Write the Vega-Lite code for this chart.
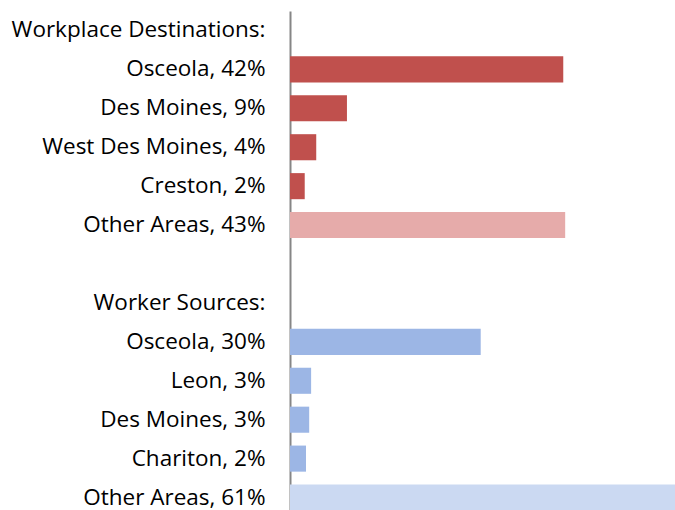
{
  "$schema": "https://vega.github.io/schema/vega-lite/v6.json",
  "autosize": {"type": "none"},
  "padding": {"left": 290, "top": 11, "right": 0, "bottom": 0},
  "width": 385,
  "height": 506,
  "background": "white",
  "config": {"view": {"stroke": null}},
  "data": {
    "values": [
      {"label": "Workplace Destinations:", "value": 0, "grp": "none"},
      {"label": "Osceola, 42%", "value": 42.7, "grp": "dest"},
      {"label": "Des Moines, 9%", "value": 8.9, "grp": "dest"},
      {"label": "West Des Moines, 4%", "value": 4.1, "grp": "dest"},
      {"label": "Creston, 2%", "value": 2.3, "grp": "dest"},
      {"label": "Other Areas, 43%", "value": 43.0, "grp": "destOther"},
      {"label": " ", "value": 0, "grp": "none"},
      {"label": "Worker Sources:", "value": 0, "grp": "none"},
      {"label": "Osceola, 30%", "value": 29.8, "grp": "src"},
      {"label": "Leon, 3%", "value": 3.3, "grp": "src"},
      {"label": "Des Moines, 3% ", "value": 3.0, "grp": "src"},
      {"label": "Chariton, 2%", "value": 2.5, "grp": "src"},
      {"label": "Other Areas, 61%", "value": 61.0, "grp": "srcOther"}
    ]
  },
  "mark": {"type": "bar", "clip": true},
  "encoding": {
    "y": {
      "field": "label",
      "type": "nominal",
      "sort": null,
      "scale": {
        "domain": ["Workplace Destinations:", "Osceola, 42%", "Des Moines, 9%", "West Des Moines, 4%", "Creston, 2%", "Other Areas, 43%", " ", "Worker Sources:", "Osceola, 30%", "Leon, 3%", "Des Moines, 3% ", "Chariton, 2%", "Other Areas, 61%"],
        "paddingInner": 0.33,
        "paddingOuter": 0.165
      },
      "axis": {
        "title": null,
        "ticks": false,
        "grid": false,
        "domainColor": "#868686",
        "domainWidth": 2,
        "labelFont": "Open Sans",
        "labelFontSize": 22.5,
        "labelColor": "#000000",
        "labelPadding": 25,
        "labelLimit": 400
      }
    },
    "x": {
      "field": "value",
      "type": "quantitative",
      "scale": {"domain": [0, 60.16], "nice": false, "zero": true},
      "axis": null
    },
    "color": {
      "field": "grp",
      "type": "nominal",
      "scale": {
        "domain": ["none", "dest", "destOther", "src", "srcOther"],
        "range": ["#ffffff", "#c0504d", "#e6abaa", "#9cb6e5", "#cbd9f2"]
      },
      "legend": null
    }
  }
}
